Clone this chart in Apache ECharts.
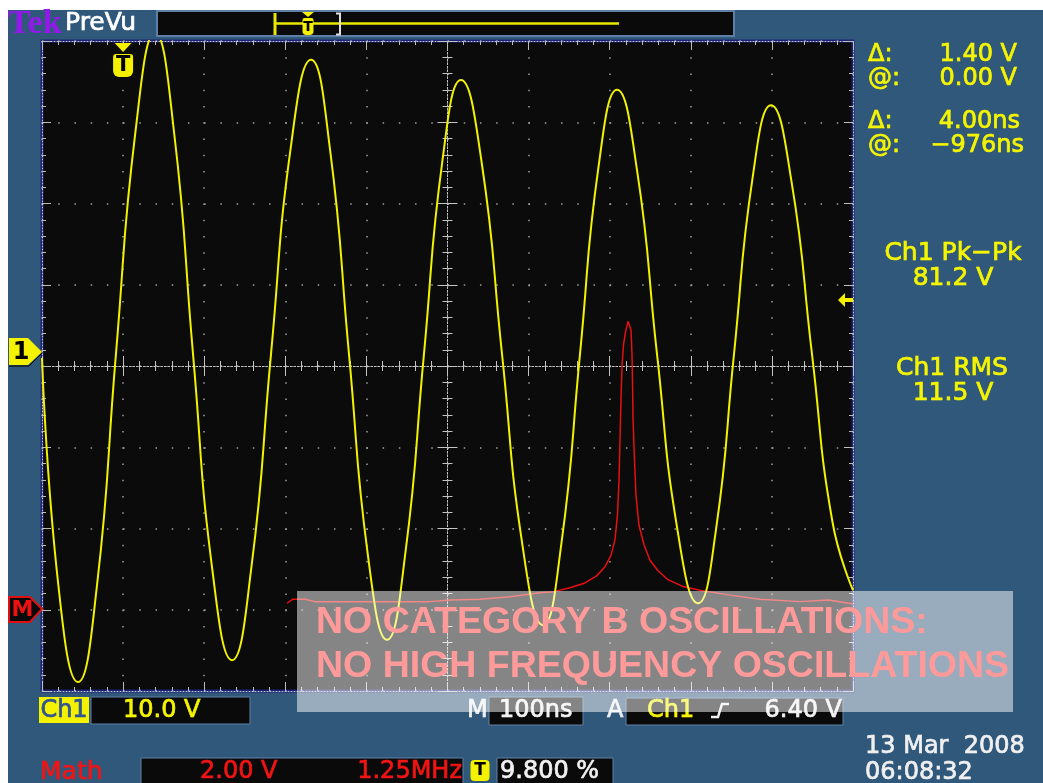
<!DOCTYPE html>
<html><head><meta charset="utf-8">
<script src="https://cdn.jsdelivr.net/npm/echarts/dist/echarts.min.js"></script>
<style>
html,body{margin:0;padding:0;background:#fff;}
#wrap{position:relative;width:1043px;height:783px;overflow:hidden;background:#fff;}
#bg{position:absolute;left:8px;top:10px;right:0;bottom:0;background:#30587b;}
#chart{position:absolute;left:0;top:0;width:1043px;height:783px;}
</style></head><body>
<div id="wrap"><div id="bg"></div><div id="chart"></div></div>
<script>
// ---- Data (time in ns relative to screen centre, value in screen volts, 10 V/div) ----
const ch1Time  = [-500,-479.7,-455.6,-432.2,-408.8,-384.7,-360.7,-337.2,-313.8,-289.8,-265.7,-241.7,-217.6,-193,-168.3,-144.9,-121.5,-98,-74.6,-51.8,-29,-6.2,16.6,41.9,67.2,92.5,117.8,140.5,163.4,186.2,209,233.7,258.3,283.6,308.9,331.1,353.3,376.1,398.9,424.2,449.4,474.7,500];
const ch1Volts = [1.0,-27.1,-38.9,-27.0,1.5,28.9,41.0,28.8,1.5,-25.2,-36.2,-24.7,1.5,27.1,37.7,26.7,1.5,-23.4,-33.7,-22.9,1.5,25.3,35.2,25.2,1.5,-22.1,-31.9,-21.8,1.5,24.5,34.0,24.1,1.5,-20.2,-29.2,-20.1,1.5,23.1,32.1,22.7,1.5,-19.2,-27.6];
const mathTime  = [-197.9,-190.5,-175.7,-163.4,-21.6,3.1,40.1,77.1,114.1,130.1,151.1,169.5,184.3,194.2,201.6,206.5,209.6,211.5,212.7,213.9,215.2,217,219.5,222.6,225,226.3,227.5,228.1,228.7,230.6,232.4,236.1,242.3,249.7,259.6,271.9,289.2,311.3,348.3,385.3,434.6,470,500];
const mathVolts = [-29.2,-28.7,-28.7,-29.0,-29.0,-28.8,-28.7,-28.4,-27.9,-27.8,-27.3,-26.7,-25.8,-24.7,-23.3,-21.4,-18.3,-14.0,-9.1,-4.2,0,2.6,4.2,5.5,5.7,4.4,1.4,-1.7,-6.3,-11.6,-15.9,-19.6,-22.0,-23.9,-25.2,-26.3,-27.1,-27.6,-28.2,-28.7,-29.0,-28.8,-29.3];
const xRange = [-500, 500], xStep = 100;   // 10 div x 100 ns
const yRange = [-40, 40],  yStep = 10;     // 8 div x 10 V
const ch1Ground = 1.72, trigLevel = 8.12, mathRef = -29.9, trigTime = -400;
const readouts = {
  dV: '1.40 V', atV: '0.00 V', dT: '4.00ns', atT: '\u2212976ns',
  pkLabel: 'Ch1 Pk\u2212Pk', pk: '81.2 V', rmsLabel: 'Ch1 RMS', rms: '11.5 V',
  ch1Scale: '10.0 V', timeBase: '100ns', trigSrc: 'Ch1', trigVal: '6.40 V',
  mathScale: '2.00 V', mathFreq: '1.25MHz', trigPct: '9.800 %',
  date: '13 Mar  2008', time: '06:08:32'
};
const overlayLines = ['NO CATEGORY B OSCILLATIONS:', 'NO HIGH FREQUENCY OSCILLATIONS'];

const zip = (a, b) => a.map((v, i) => [v, b[i]]);
const F = '"DejaVu Sans", Verdana, sans-serif';

function xAx(extra) {
  return Object.assign({type:'value', min:xRange[0], max:xRange[1], interval:xStep, gridIndex:0,
    axisLabel:{show:false}, splitLine:{show:false}}, extra);
}
function yAx(extra) {
  return Object.assign({type:'value', min:yRange[0], max:yRange[1], interval:yStep, gridIndex:0,
    axisLabel:{show:false}, splitLine:{show:false}}, extra);
}
const borderLine = {show:true, onZero:false, lineStyle:{color:'rgba(215,215,235,0.9)', width:1, type:[1,2]}};
const borderTick = {show:true, inside:true, length:9, lineStyle:{color:'#bdbdbd', width:1}};
const borderMinor = {show:true, splitNumber:5, length:4, lineStyle:{color:'#bdbdbd', width:1}};
const centerLine = (idx) => ({show:true, onZero:true, onZeroAxisIndex:idx, lineStyle:{color:'#c4c4c4', width:1, type:[1.5,2]}});
const cTick = (inside) => ({show:true, inside:inside, length:10, lineStyle:{color:'#c4c4c4', width:1}});
const cMinor = {show:true, splitNumber:5, length:5, lineStyle:{color:'#c4c4c4', width:1}};

const option = {
  animation:false,
  backgroundColor:'transparent',
  grid:{left:42, top:41, right:190, bottom:92, show:true, backgroundColor:'#0b0b0b',
        borderColor:'#1d2372', borderWidth:3, containLabel:false, outerBoundsMode:'none'},
  xAxis:[
    xAx({position:'bottom', axisLine:borderLine, axisTick:borderTick, minorTick:borderMinor,
         splitLine:{show:true, lineStyle:{color:'#a0a0a0', width:1.5, type:[1.5,14.75]}}}),
    xAx({position:'top', axisLine:borderLine, axisTick:borderTick, minorTick:borderMinor}),
    xAx({position:'bottom', axisLine:centerLine(0), axisTick:cTick(false), minorTick:cMinor}),
    xAx({position:'bottom', axisLine:centerLine(0), axisTick:cTick(true), minorTick:cMinor})
  ],
  yAxis:[
    yAx({position:'left', axisLine:borderLine, axisTick:borderTick, minorTick:borderMinor,
         splitLine:{show:true, lineStyle:{color:'#a0a0a0', width:1.5, type:[1.5,14.72]}}}),
    yAx({position:'right', axisLine:borderLine, axisTick:borderTick, minorTick:borderMinor}),
    yAx({position:'left', axisLine:centerLine(0), axisTick:cTick(false), minorTick:cMinor}),
    yAx({position:'left', axisLine:centerLine(0), axisTick:cTick(true), minorTick:cMinor})
  ],
  series:[
    {type:'line', name:'Ch1', xAxisIndex:0, yAxisIndex:0, data:zip(ch1Time, ch1Volts), smooth:0.5,
     symbol:'none', clip:true, z:5, lineStyle:{color:'#f2f200', width:2}},
    {type:'line', name:'Math', xAxisIndex:0, yAxisIndex:0, data:zip(mathTime, mathVolts), smooth:false,
     symbol:'none', clip:true, z:4, lineStyle:{color:'#e81010', width:1.5}}
  ]
};

const chart = echarts.init(document.getElementById('chart'), null, {renderer:'canvas', width:1043, height:783});
chart.setOption(option);

const px = (t, v) => chart.convertToPixel({gridIndex:0}, [t, v]);
const tl = px(xRange[0], yRange[1]);
const br = px(xRange[1], yRange[0]);

function txt(x, y, s, color, size, align, weight, family, z, sw) {
  const st = {text:s, fill:color, font:(weight||'normal') + ' ' + size + 'px ' + (family||F),
           align:align||'left', textAlign:align||'left', verticalAlign:'middle', textVerticalAlign:'middle'};
  if (sw) { st.stroke = color; st.lineWidth = sw; }
  return {type:'text', x:x, y:y, z:z || 20, silent:true, style:st};
}
// Tek-display readout text: slightly heavier strokes
const rt = (x, y, s, color, size, align) => txt(x, y, s, color, size, align, 'normal', F, 20, 0.7);
function rect(x, y, w, h, fill, stroke, lw, z, r) {
  return {type:'rect', z:z || 10, silent:true, shape:{x:x, y:y, width:w, height:h, r:r||0},
    style:{fill:fill, stroke:stroke||null, lineWidth:lw||0}};
}
function poly(points, fill, stroke, lw, z) {
  return {type:'polygon', z:z||12, silent:true, shape:{points:points}, style:{fill:fill, stroke:stroke||null, lineWidth:lw||0}};
}
function line(pts, color, w, z) {
  return {type:'polyline', z:z||12, silent:true, shape:{points:pts}, style:{stroke:color, lineWidth:w, fill:null}};
}
function tBadge(cx, top, s) {
  return [
    poly([[cx - 8.5*s, top], [cx + 8.5*s, top], [cx, top + 9*s]], '#f5f000', null, 0, 15),
    rect(cx - 10*s, top + 11*s, 20*s, 23*s, '#f5f000', null, 0, 15, [3*s,3*s,6*s,6*s]),
    txt(cx, top + 23*s, 'T', '#000', Math.round(21*s), 'center', 'bold', F, 16)
  ];
}

const G = [];
// --- Top bar ---
G.push(txt(8, 24, 'Tek', '#9418ea', 34, 'left', 'bold', '"Liberation Serif", "Times New Roman", serif'));
G.push(rt(65, 23, 'PreVu', '#ffffff', 25));
G.push(rect(157, 11, 577, 25, '#0a0a0a', '#5e80a6', 2, 10));
G.push(line([[275, 23.5], [619, 23.5]], '#e8e800', 2.5, 12));
G.push(line([[275, 13], [275, 35]], '#e8e800', 3, 12));
G.push(line([[336, 13.5], [340, 13.5], [340, 34.5], [336, 34.5]], '#e0e0e0', 2, 12));
G.push(poly([[302, 12], [314, 12], [308, 17]], '#f5f000', null, 0, 15));
G.push(rect(302.5, 18, 11, 17, '#f5f000', null, 0, 15, [2,2,4,4]));
G.push(txt(308, 27, 'T', '#000', 14, 'center', 'bold', F, 16));
// --- markers tied to scales ---
{
  const g = px(xRange[0], ch1Ground);
  const xL = 9, yG = g[1], xT = tl[0];
  G.push(poly([[xL, yG - 14], [xT - 14, yG - 14], [xT, yG], [xT - 14, yG + 13], [xL, yG + 13]], '#f5f200', null, 0, 14));
  G.push(line([[xT, yG + 1], [xT - 13, yG + 14], [xL, yG + 14]], '#000', 1, 15));
  G.push(txt(21, yG + 1, '1', '#000', 24, 'center', 'bold', F, 16));

  const m = px(xRange[0], mathRef);
  const yM = m[1];
  G.push(poly([[xL, yM - 12], [xT - 12, yM - 12], [xT, yM], [xT - 12, yM + 13], [xL, yM + 13]], '#0a0a0a', '#e01010', 2, 14));
  G.push(txt(22.5, yM + 1, 'M', '#ee1111', 22, 'center', 'bold', F, 16));

  const tr = px(xRange[1], trigLevel);
  const xr = br[0], yt = tr[1];
  G.push(poly([[xr - 15, yt], [xr - 8, yt - 7], [xr - 8, yt - 2], [xr, yt - 2], [xr, yt + 2], [xr - 8, yt + 2], [xr - 8, yt + 7]], '#f5f000', null, 0, 15));

  const tp = px(trigTime, yRange[1]);
  G.push(...tBadge(tp[0], tp[1] + 2, 1));
}
// --- Right readouts ---
const Y = '#f5f500';
G.push(rt(868, 55, '\u0394:', Y, 24));
G.push(rt(1017, 55, readouts.dV, Y, 24, 'right'));
G.push(rt(868, 79, '@:', Y, 24));
G.push(rt(1017, 79, readouts.atV, Y, 24, 'right'));
G.push(rt(868, 122, '\u0394:', Y, 24));
G.push(rt(1020, 122, readouts.dT, Y, 24, 'right'));
G.push(rt(868, 146, '@:', Y, 24));
G.push(rt(1024, 146, readouts.atT, Y, 24, 'right'));
G.push(rt(953, 253, readouts.pkLabel, Y, 25, 'center'));
G.push(rt(953, 278, readouts.pk, Y, 25, 'center'));
G.push(rt(952, 368, readouts.rmsLabel, Y, 25, 'center'));
G.push(rt(953, 393, readouts.rms, Y, 25, 'center'));
// --- Bottom bar ---
const W = '#f0f0f0', R = '#f01414';
G.push(rect(39, 697, 50, 26, '#f5f200', null, 0, 10));
G.push(rt(64, 711, 'Ch1', '#31558e', 24, 'center'));
G.push(rect(91, 697, 159, 27, '#0a0a0a', '#5e80a6', 1, 10));
G.push(rt(123, 711, readouts.ch1Scale, Y, 24));
G.push(rt(467, 711, 'M', W, 24));
G.push(rect(489, 697, 94, 28, '#0a0a0a', '#5e80a6', 1, 10));
G.push(rt(499, 711, readouts.timeBase, W, 24));
G.push(rt(607, 711, 'A', W, 24));
G.push(rect(626, 698, 217, 27, '#0a0a0a', '#5e80a6', 1, 10));
G.push(rt(647, 711, readouts.trigSrc, Y, 24));
G.push(line([[711, 717], [718, 717], [722, 704], [729, 704]], W, 2.5, 12));
G.push(rt(842, 711, readouts.trigVal, W, 24, 'right'));
G.push(rt(40, 772, 'Math', R, 25));
G.push(rect(141, 758, 322, 27, '#0a0a0a', '#5e80a6', 1, 10));
G.push(rt(200, 772, readouts.mathScale, R, 24));
G.push(rt(462, 772, readouts.mathFreq, R, 24, 'right'));
G.push(rect(470.5, 760, 19, 21, '#f5f200', null, 0, 12, 4));
G.push(txt(480, 771, 'T', '#000', 17, 'center', 'bold', F, 13));
G.push(rect(497, 758, 116, 27, '#0a0a0a', '#5e80a6', 1, 10));
G.push(rt(500, 772, readouts.trigPct, W, 24));
G.push(rt(865, 747, readouts.date, W, 24));
G.push(rt(865, 773, readouts.time, W, 24));
// --- Annotation overlay ---
G.push(rect(297, 591, 716, 121, 'rgba(255,255,255,0.5)', null, 0, 60));
G.push(txt(316, 623, overlayLines[0], '#ff9a9a', 37.5, 'left', 'bold', '"Liberation Sans", Arial, sans-serif', 61));
G.push(txt(316, 667, overlayLines[1], '#ff9a9a', 37.5, 'left', 'bold', '"Liberation Sans", Arial, sans-serif', 61));

chart.setOption({graphic:{elements:G}});
</script>
</body></html>
